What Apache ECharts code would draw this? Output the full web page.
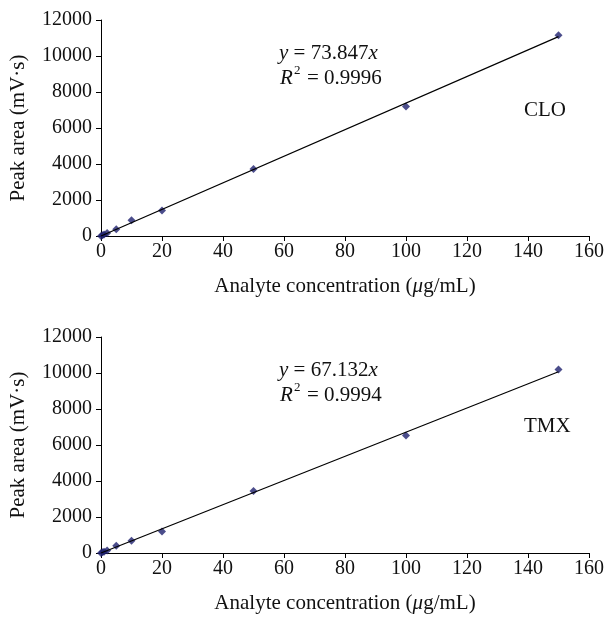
<!DOCTYPE html>
<html>
<head>
<meta charset="utf-8">
<script src="https://cdn.jsdelivr.net/npm/echarts@6/dist/echarts.min.js"></script>
<style>
  html, body { margin: 0; padding: 0; background: #fff; }
  #main { width: 607px; height: 618px; }
</style>
</head>
<body>
<div id="main"></div>
<script>
  // concentrations (ug/mL)
  var conc = [0, 0.5, 1, 2, 5, 10, 20, 50, 100, 150];
  // peak areas
  var cloArea = [0, 40, 80, 160, 380, 880, 1420, 3720, 7200, 11150];
  var tmxArea = [0, 35, 70, 140, 400, 680, 1200, 3450, 6530, 10200];
  // fitted lines (end points)
  var cloFit = [[0, 0], [150, 11077]];
  var tmxFit = [[0, 0], [150, 10070]];

  var serif = 'Liberation Serif';
  var navy = '#1e216e';
  var fs = 20;

  function pairs(xs, ys) {
    return xs.map(function (x, i) { return [x, ys[i]]; });
  }

  function xAxis(idx) {
    return {
      type: 'value', gridIndex: idx, min: 0, max: 160, interval: 20,
      name: '{n|Analyte concentration (}{i|μ}{n|g/mL)}',
      nameLocation: 'middle', nameGap: 40,
      nameTextStyle: {
        rich: {
          n: { fontFamily: serif, fontSize: 21, color: '#111' },
          i: { fontFamily: serif, fontSize: 21, fontStyle: 'italic', color: '#111' }
        }
      },
      splitLine: { show: false },
      axisLine: { lineStyle: { color: '#000', width: 1 } },
      axisTick: { show: true, length: 5, inside: false, lineStyle: { color: '#000' } },
      axisLabel: { fontFamily: serif, fontSize: fs, color: '#111', margin: 6 }
    };
  }
  function yAxis(idx) {
    return {
      type: 'value', gridIndex: idx, min: 0, max: 12000, interval: 2000,
      name: 'Peak area (mV·s)', nameLocation: 'middle', nameGap: 72,
      nameTextStyle: { fontFamily: serif, fontSize: 21, color: '#111' },
      splitLine: { show: false },
      axisLine: { show: true, lineStyle: { color: '#000', width: 1 } },
      axisTick: { show: true, length: 5, lineStyle: { color: '#000' } },
      axisLabel: { fontFamily: serif, fontSize: fs, color: '#111', margin: 9,
        formatter: function (v) { return String(v); } }
    };
  }

  function eq(x, y, slope, r2, tag, tagY) {
    var ef = 21;
    return [
      { type: 'text', left: x, top: y, style: {
        text: '{i|y }{n|= ' + slope + '}{i|x}',
        rich: {
          i: { fontFamily: serif, fontSize: ef, fontStyle: 'italic', fill: '#111' },
          n: { fontFamily: serif, fontSize: ef, fill: '#111' }
        }
      } },
      { type: 'text', left: x + 1, top: y + 25, style: { text: 'R', fontFamily: serif, fontSize: ef, fontStyle: 'italic', fill: '#111' } },
      { type: 'text', left: x + 15, top: y + 21, style: { text: '2', fontFamily: serif, fontSize: 13, fill: '#111' } },
      { type: 'text', left: x + 28, top: y + 25, style: { text: '= ' + r2, fontFamily: serif, fontSize: ef, fill: '#111' } },
      { type: 'text', left: 524, top: tagY, style: { text: tag, fontFamily: serif, fontSize: ef, fill: '#111' } }
    ];
  }

  var chart = echarts.init(document.getElementById('main'));
  chart.setOption({
    backgroundColor: '#fff',
    animation: false,
    grid: [
      { left: 101, right: 17, top: 20, height: 216 },
      { left: 101, right: 17, top: 337, height: 216 }
    ],
    xAxis: [xAxis(0), xAxis(1)],
    yAxis: [yAxis(0), yAxis(1)],
    graphic: eq(279, 43, '73.847', '0.9996', 'CLO', 100)
      .concat(eq(279, 360, '67.132', '0.9994', 'TMX', 416)),
    series: [
      { type: 'line', xAxisIndex: 0, yAxisIndex: 0, data: cloFit, symbol: 'none',
        lineStyle: { color: '#000', width: 1.2 } },
      { type: 'scatter', xAxisIndex: 0, yAxisIndex: 0, data: pairs(conc, cloArea),
        symbol: 'diamond', symbolSize: 8, itemStyle: { color: navy } },
      { type: 'line', xAxisIndex: 1, yAxisIndex: 1, data: tmxFit, symbol: 'none',
        lineStyle: { color: '#000', width: 1.2 } },
      { type: 'scatter', xAxisIndex: 1, yAxisIndex: 1, data: pairs(conc, tmxArea),
        symbol: 'diamond', symbolSize: 8, itemStyle: { color: navy } }
    ]
  });
</script>
</body>
</html>
